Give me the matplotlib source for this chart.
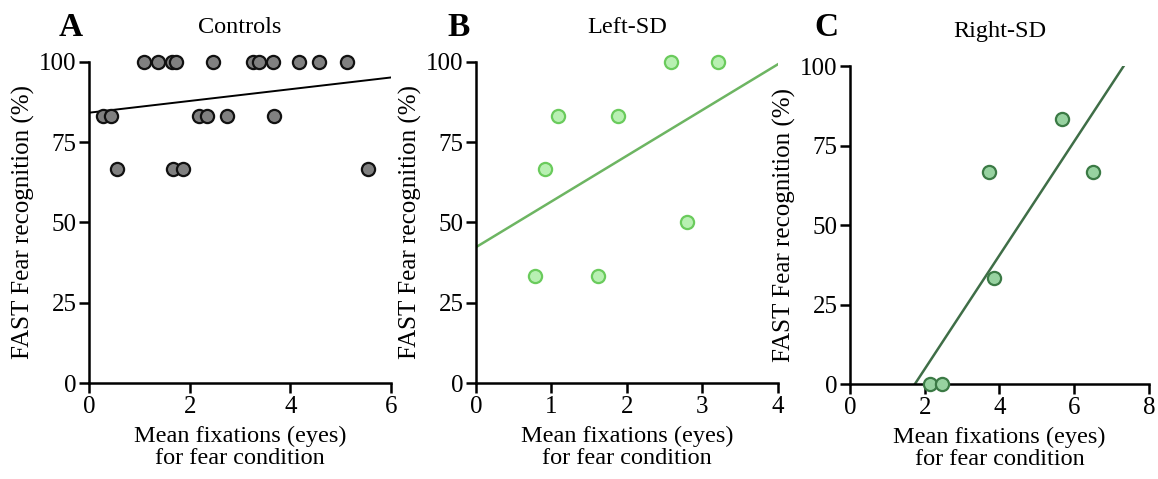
import numpy as np
import matplotlib
matplotlib.use("Agg")
import matplotlib.pyplot as plt

plt.rcParams['font.family'] = ['Liberation Serif', 'DejaVu Serif']

# --- data ---
ctrl_x = [1.09, 1.36, 1.64, 1.72, 2.47, 3.25, 3.38, 3.66, 4.17, 4.56, 5.13,
          0.27, 0.44, 2.19, 2.34, 2.75, 3.68,
          0.55, 1.66, 1.87, 5.55]
ctrl_y = [100] * 11 + [83.3] * 6 + [66.7] * 4
ctrl_fit = (1.83, 84.2)          # slope, intercept

left_x = [2.59, 3.21, 1.09, 1.88, 0.91, 2.79, 0.78, 1.62]
left_y = [100, 100, 83.3, 83.3, 66.7, 50, 33.3, 33.3]
left_fit = (14.25, 42.3)

right_x = [5.68, 3.72, 6.49, 3.85, 2.14, 2.47]
right_y = [83.3, 66.7, 66.7, 33.3, 0, 0]
right_fit = (17.9, -31.1)

titles = ["Controls", "Left-SD", "Right-SD"]
letters = ["A", "B", "C"]
xmax = [6, 4, 8]
xticks = [[0, 2, 4, 6], [0, 1, 2, 3, 4], [0, 2, 4, 6, 8]]
yticks = [0, 25, 50, 75, 100]

fills = ["#808080", "#b8f0b2", "#97d2a0"]
edges = ["#111111", "#6acb5c", "#3b7a45"]
lines = ["#000000", "#6db562", "#3f6e47"]

fig = plt.figure(figsize=(11.58, 4.79), dpi=100)
boxes = [[0.0769, 0.2004, 0.2608, 0.6702],
         [0.4110, 0.2004, 0.2608, 0.6702],
         [0.7340, 0.1983, 0.2582, 0.6639]]
letter_x = [0.061, 0.396, 0.714]

datasets = [(ctrl_x, ctrl_y, ctrl_fit), (left_x, left_y, left_fit),
            (right_x, right_y, right_fit)]

for i, (xs, ys, fit) in enumerate(datasets):
    ax = fig.add_axes(boxes[i])
    m, b = fit
    fx = np.linspace(0, xmax[i], 200)
    ax.plot(fx, m * fx + b, color=lines[i], lw=1.4 if i == 0 else 1.8, zorder=2)
    ax.scatter(xs, ys, s=90, facecolor=fills[i], edgecolor=edges[i],
               linewidth=1.6, zorder=3, clip_on=False)
    ax.set_xlim(0, xmax[i])
    ax.set_ylim(0, 100)
    ax.set_xticks(xticks[i])
    ax.set_yticks(yticks)
    for s in ['top', 'right']:
        ax.spines[s].set_visible(False)
    for s in ['left', 'bottom']:
        ax.spines[s].set_linewidth(1.8)
    ax.tick_params(direction='out', length=7, width=1.8, labelsize=18, pad=2)
    ax.set_ylabel("FAST Fear recognition (%)", fontsize=18, labelpad=3)
    ax.set_xlabel("Mean fixations (eyes)\nfor fear condition", fontsize=17.5,
                  labelpad=6, linespacing=1.05)
    ax.set_title(titles[i], fontsize=17.5, pad=21)
    fig.text(letter_x[i], 0.942, letters[i], fontsize=24, fontweight='bold',
             ha='center', va='center')

fig.savefig("out.png", dpi=100)
